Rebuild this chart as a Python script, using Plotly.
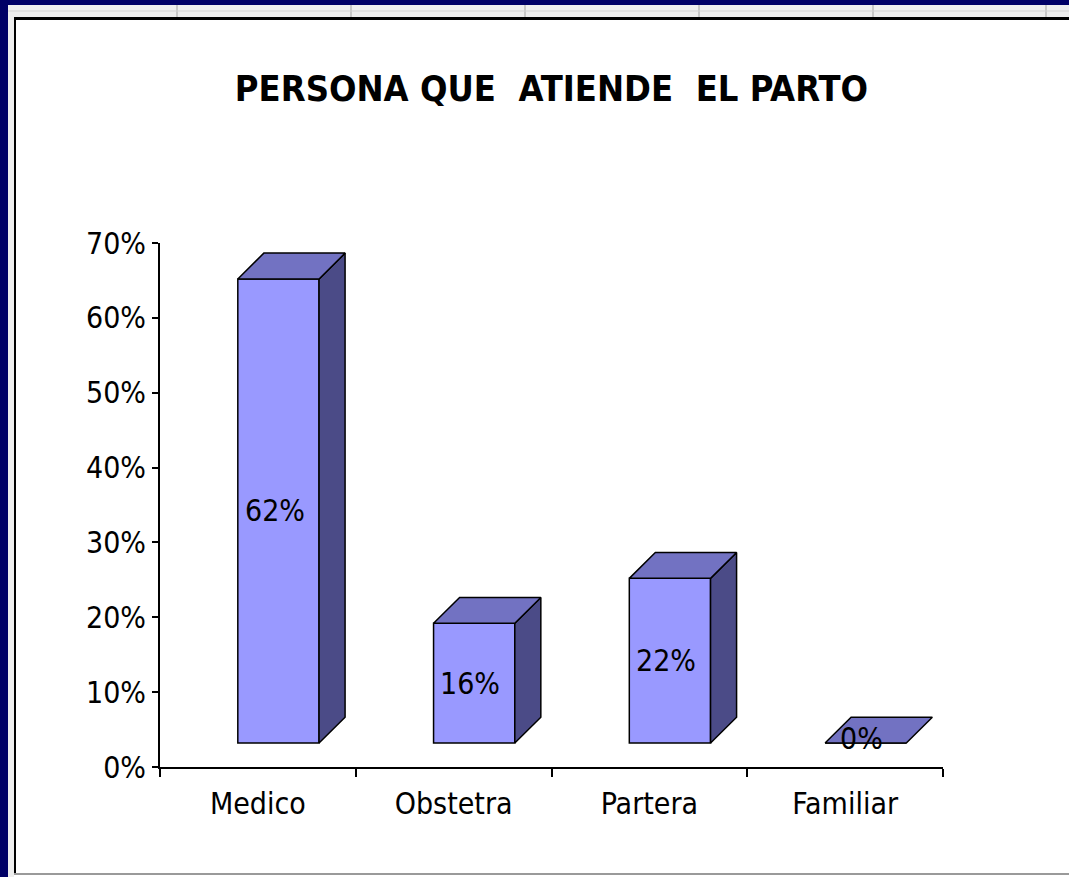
import plotly.graph_objects as go

# datos
categorias = ["Medico", "Obstetra", "Partera", "Familiar"]
porcentajes = [62, 16, 22, 0]
etiquetas = ["62%", "16%", "22%", "0%"]
ticks_y = [0, 10, 20, 30, 40, 50, 60, 70]
ticks_y_txt = ["0%", "10%", "20%", "30%", "40%", "50%", "60%", "70%"]
titulo = "PERSONA QUE \u00a0ATIENDE \u00a0EL PARTO"

W, H = 1069, 877
L, R, T, B = 160, 943, 243, 767   # area de trazado en pixeles

FUENTE = "DejaVu Sans Condensed, Liberation Sans Narrow, Arial Narrow, sans-serif"
C_FRENTE = "#9999FF"
C_TECHO = "#7272C2"
C_LADO = "#4B4B87"

# efecto 3D (en unidades de los ejes)
BASE = 3.2      # el frente se apoya un poco arriba del eje
ANCHO = 0.415
CORRE = 0.105   # desplazamiento del frente respecto al centro de categoria
DX, DY = 0.133, 3.45


def px2x(px):
    return (px - L) / (R - L)


def py2y(py):
    return (B - py) / (B - T)


centros = [i + 0.5 + CORRE for i in range(len(categorias))]

techo_x, techo_y, lado_x, lado_y = [], [], [], []
for c, v in zip(centros, porcentajes):
    xl, xr, t = c - ANCHO / 2, c + ANCHO / 2, BASE + v
    techo_x += [xl, xl + DX, xr + DX, xr, xl, None]
    techo_y += [t, t + DY, t + DY, t, t, None]
    if v > 0:
        lado_x += [xr, xr, xr + DX, xr + DX, xr, None]
        lado_y += [BASE, t, t + DY, BASE + DY, BASE, None]

fig = go.Figure()

fig.add_trace(go.Bar(
    x=centros, y=porcentajes, base=BASE, width=ANCHO,
    marker=dict(color=C_FRENTE, line=dict(color="black", width=1.5)),
    hoverinfo="skip",
))
fig.add_trace(go.Scatter(
    x=lado_x, y=lado_y, mode="lines", fill="toself", fillcolor=C_LADO,
    line=dict(color="black", width=1.5), hoverinfo="skip",
))
fig.add_trace(go.Scatter(
    x=techo_x, y=techo_y, mode="lines", fill="toself", fillcolor=C_TECHO,
    line=dict(color="black", width=1.5), hoverinfo="skip",
))

# etiquetas de valor
for c, v, txt in zip(centros, porcentajes, etiquetas):
    fig.add_annotation(
        x=c - 0.02, y=BASE + v / 2 if v > 0 else BASE + 0.6, text=txt,
        showarrow=False, font=dict(family=FUENTE, size=30, color="black"),
    )

# marco tipo hoja de calculo
formas = [
    dict(type="rect", x0=px2x(0), x1=px2x(W), y0=py2y(17), y1=py2y(5),
         fillcolor="#EEEEEE", line_width=0),
    dict(type="rect", x0=px2x(8), x1=px2x(14), y0=py2y(H), y1=py2y(5),
         fillcolor="#EEEEEE", line_width=0),
]
for gx in [177, 351, 525, 699, 873, 1046]:
    formas.append(dict(type="line", x0=px2x(gx), x1=px2x(gx), y0=py2y(17), y1=py2y(5),
                       line=dict(color="#C8C8C8", width=2)))
formas += [
    dict(type="line", x0=px2x(0), x1=px2x(W), y0=py2y(11), y1=py2y(11),
         line=dict(color="#D4D4D4", width=1)),
    dict(type="rect", x0=px2x(0), x1=px2x(W), y0=py2y(5), y1=py2y(0),
         fillcolor="#000066", line_width=0),
    dict(type="rect", x0=px2x(0), x1=px2x(8), y0=py2y(H), y1=py2y(0),
         fillcolor="#000066", line_width=0),
    dict(type="line", x0=px2x(14), x1=px2x(W), y0=py2y(18.5), y1=py2y(18.5),
         line=dict(color="black", width=3)),
    dict(type="line", x0=px2x(15), x1=px2x(15), y0=py2y(874), y1=py2y(17),
         line=dict(color="black", width=2)),
    dict(type="line", x0=px2x(14), x1=px2x(W), y0=py2y(874), y1=py2y(874),
         line=dict(color="#9A9A9A", width=2)),
]
for f in formas:
    f["xref"] = "paper"
    f["yref"] = "paper"
    f["layer"] = "above"

fig.update_layout(
    width=W, height=H,
    margin=dict(l=L, r=W - R, t=T, b=H - B),
    paper_bgcolor="white", plot_bgcolor="white",
    showlegend=False,
    shapes=formas,
    title=dict(text=titulo, x=0.5, xanchor="center", xref="paper",
               y=1 - 88 / H, yref="container", yanchor="middle",
               font=dict(family=FUENTE, size=36, color="black", weight="bold")),
)

fig.update_xaxes(
    range=[0, 4], showgrid=False, zeroline=False,
    showline=True, linecolor="black", linewidth=2,
    tickmode="array", tickvals=[i + 0.5 for i in range(len(categorias))],
    ticktext=categorias, ticks="",
    tickfont=dict(family=FUENTE, size=30, color="black"),
    ticklabelstandoff=9,
    minor=dict(tick0=0, dtick=1, ticks="outside", ticklen=8, tickcolor="black",
               tickwidth=2, showgrid=False),
)
fig.update_yaxes(
    range=[0, 70], showgrid=False, zeroline=False,
    showline=True, linecolor="black", linewidth=2,
    tickmode="array", tickvals=ticks_y, ticktext=ticks_y_txt,
    ticks="outside", ticklen=6, tickcolor="black", tickwidth=2,
    tickfont=dict(family=FUENTE, size=30, color="black"),
    ticklabelstandoff=0,
)

fig.write_html("out.html", config={"displayModeBar": False},
               post_script="document.body.style.margin='0';")
